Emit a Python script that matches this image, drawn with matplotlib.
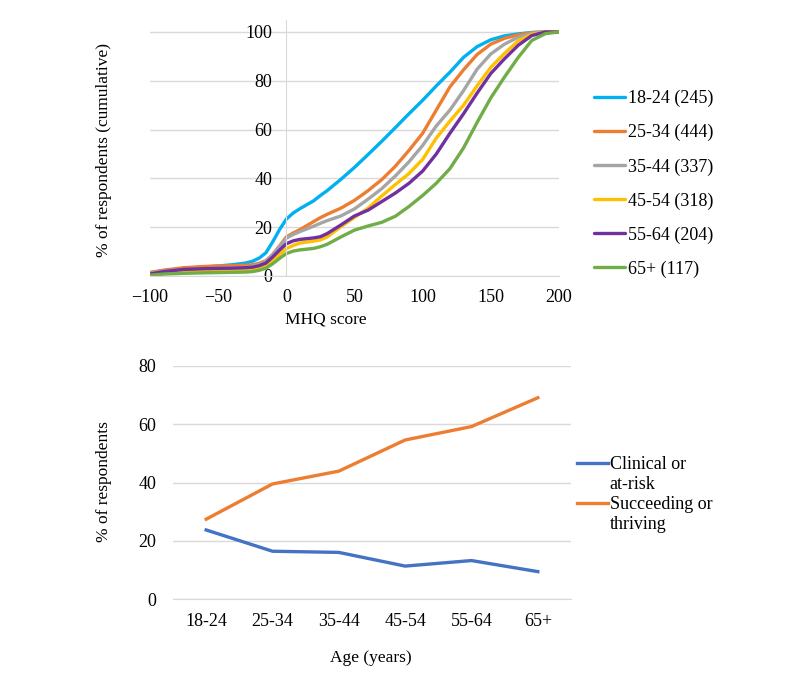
import matplotlib
matplotlib.use('Agg')
import matplotlib.pyplot as plt
from matplotlib.lines import Line2D

plt.rcParams['font.family'] = ['Liberation Serif', 'DejaVu Serif']
plt.rcParams['axes.unicode_minus'] = True

# cumulative distribution of MHQ scores by age group
mhq_x = [-100, -90, -75, -60, -50, -40, -30, -25, -20, -15, -10, -5, 0, 5, 10, 20, 25, 30, 40,
         50, 60, 70, 80, 90, 100, 110, 120, 130, 140, 150, 160, 170, 180, 190, 200]
cum_18_24 = [1.4, 2.2, 3.1, 3.7, 4.1, 4.6, 5.3, 6.0, 7.3, 9.5, 14.0, 19.0, 23.3, 25.8, 27.6, 30.8, 33.0, 35.0,
             39.6, 44.5, 49.8, 55.2, 60.8, 66.5, 72.0, 77.9, 83.5, 89.6, 94.0, 96.8, 98.4, 99.2, 99.8, 100, 100]
cum_25_34 = [1.4, 2.4, 3.4, 3.9, 4.1, 4.2, 4.4, 4.6, 5.2, 6.3, 8.8, 12.3, 16.0, 17.6, 19.0, 22.3, 23.9, 25.3,
             27.8, 31.0, 35.0, 39.5, 45.0, 51.5, 58.5, 68.0, 77.5, 84.5, 90.8, 95.0, 97.4, 98.8, 99.7, 100, 100]
cum_35_44 = [1.1, 2.0, 2.7, 3.0, 3.1, 3.3, 3.6, 4.0, 4.7, 6.0, 8.8, 12.0, 15.5, 17.0, 18.2, 20.4, 21.6, 22.7,
             24.6, 27.5, 31.5, 35.8, 41.0, 46.8, 53.5, 61.5, 68.0, 76.0, 84.8, 91.0, 95.0, 97.8, 99.4, 100, 100]
cum_45_54 = [0.1, 1.0, 1.8, 2.0, 2.1, 2.2, 2.4, 2.6, 3.1, 4.2, 6.2, 8.8, 11.2, 12.5, 13.5, 14.3, 14.8, 16.0,
             20.2, 24.0, 27.8, 32.8, 37.5, 42.0, 47.8, 56.5, 63.5, 70.0, 78.0, 85.5, 91.2, 96.3, 99.0, 100, 100]
cum_55_64 = [0.8, 1.8, 2.7, 3.0, 3.1, 3.2, 3.4, 3.6, 4.2, 5.3, 7.8, 10.6, 13.2, 14.4, 15.0, 15.6, 16.1, 17.4,
             20.9, 24.6, 27.0, 30.5, 34.0, 38.0, 43.0, 50.0, 58.5, 66.5, 75.0, 83.0, 89.0, 94.5, 98.5, 100, 100]
cum_65 = [0.3, 0.8, 1.1, 1.3, 1.4, 1.5, 1.6, 1.8, 2.3, 3.2, 5.0, 7.2, 9.2, 10.2, 10.7, 11.3, 12.0, 13.0,
          16.0, 18.8, 20.5, 22.0, 24.5, 28.5, 33.0, 38.0, 44.0, 52.5, 63.0, 73.0, 81.5, 89.5, 96.5, 99.3, 100]
group_labels = ['18-24 (245)', '25-34 (444)', '35-44 (337)', '45-54 (318)', '55-64 (204)', '65+ (117)']

# share of respondents by age group
age_groups = ['18-24', '25-34', '35-44', '45-54', '55-64', '65+']
clinical = [23.7, 16.4, 16.0, 11.3, 13.2, 9.4]
succeeding = [27.4, 39.5, 43.9, 54.6, 59.2, 69.1]

top_colors = ['#00B0F0', '#ED7D31', '#A5A5A5', '#FFC000', '#7030A0', '#70AD47']
grid_col = '#D9D9D9'
W, H = 800, 679

fig = plt.figure(figsize=(8, 6.79), dpi=100)

# ---- top chart
ax1 = fig.add_axes([150 / W, 1 - 276 / H, 409 / W, 256 / H])
series = [cum_18_24, cum_25_34, cum_35_44, cum_45_54, cum_55_64, cum_65]
for ys, c, lab in zip(series, top_colors, group_labels):
    ax1.plot(mhq_x, ys, color=c, lw=2.4, label=lab, solid_capstyle='round', solid_joinstyle='round')
ax1.set_xlim(-100, 200)
ax1.set_ylim(0, 104.9)
ax1.set_xticks([-100, -50, 0, 50, 100, 150, 200])
ax1.set_yticks([0, 20, 40, 60, 80, 100])
ax1.yaxis.grid(True, color=grid_col, lw=1)
ax1.set_axisbelow(True)
for s in ['top', 'right']:
    ax1.spines[s].set_visible(False)
ax1.spines['left'].set_position(('data', 0))
ax1.spines['left'].set_color(grid_col)
ax1.spines['bottom'].set_color(grid_col)
ax1.tick_params(axis='both', length=0, labelsize=13, colors='black')
ax1.tick_params(axis='y', pad=10)
ax1.tick_params(axis='x', pad=9)
fig.text(326 / W, 1 - 320 / H, 'MHQ score', ha='center', va='center', fontsize=12.5)
fig.text(104 / W, 1 - 150 / H, '% of respondents (cumulative)', ha='center', va='center',
         rotation=90, fontsize=12.5)
ax1.legend(loc='upper left', bbox_to_anchor=(594 / W, 1 - 90 / H), bbox_transform=fig.transFigure,
           frameon=False, fontsize=13, handlelength=1.72, handletextpad=0.15,
           labelspacing=0.93, borderpad=0, borderaxespad=0)

# ---- bottom chart
ax2 = fig.add_axes([173 / W, 1 - 599 / H, 398 / W, 233 / H])
xpos = list(range(len(age_groups)))
l1, = ax2.plot(xpos, clinical, color='#4472C4', lw=2.4, solid_joinstyle='round')
l2, = ax2.plot(xpos, succeeding, color='#ED7D31', lw=2.4, solid_joinstyle='round')
ax2.set_xlim(-0.5, 5.5)
ax2.set_ylim(0, 80)
ax2.set_xticks(xpos)
ax2.set_xticklabels(age_groups)
ax2.set_yticks([0, 20, 40, 60, 80])
ax2.yaxis.grid(True, color=grid_col, lw=1)
ax2.set_axisbelow(True)
for s in ['top', 'right', 'left']:
    ax2.spines[s].set_visible(False)
ax2.spines['bottom'].set_color(grid_col)
ax2.tick_params(axis='both', length=0, labelsize=13, colors='black')
ax2.tick_params(axis='y', pad=12)
ax2.tick_params(axis='x', pad=10)
fig.text(371 / W, 1 - 658 / H, 'Age (years)', ha='center', va='center', fontsize=12.5)
fig.text(104 / W, 1 - 482 / H, '% of respondents', ha='center', va='center', rotation=90, fontsize=12.5)

blank = Line2D([], [], color='none')
ax2.legend([l1, blank, l2, blank], ['Clinical or', 'at-risk', 'Succeeding or', 'thriving'],
           loc='upper left', bbox_to_anchor=(577 / W, 1 - 456 / H), bbox_transform=fig.transFigure,
           frameon=False, fontsize=13, handlelength=1.72, handletextpad=0.1,
           labelspacing=0.17, borderpad=0, borderaxespad=0)

fig.savefig('out.png', dpi=100, facecolor='white')
